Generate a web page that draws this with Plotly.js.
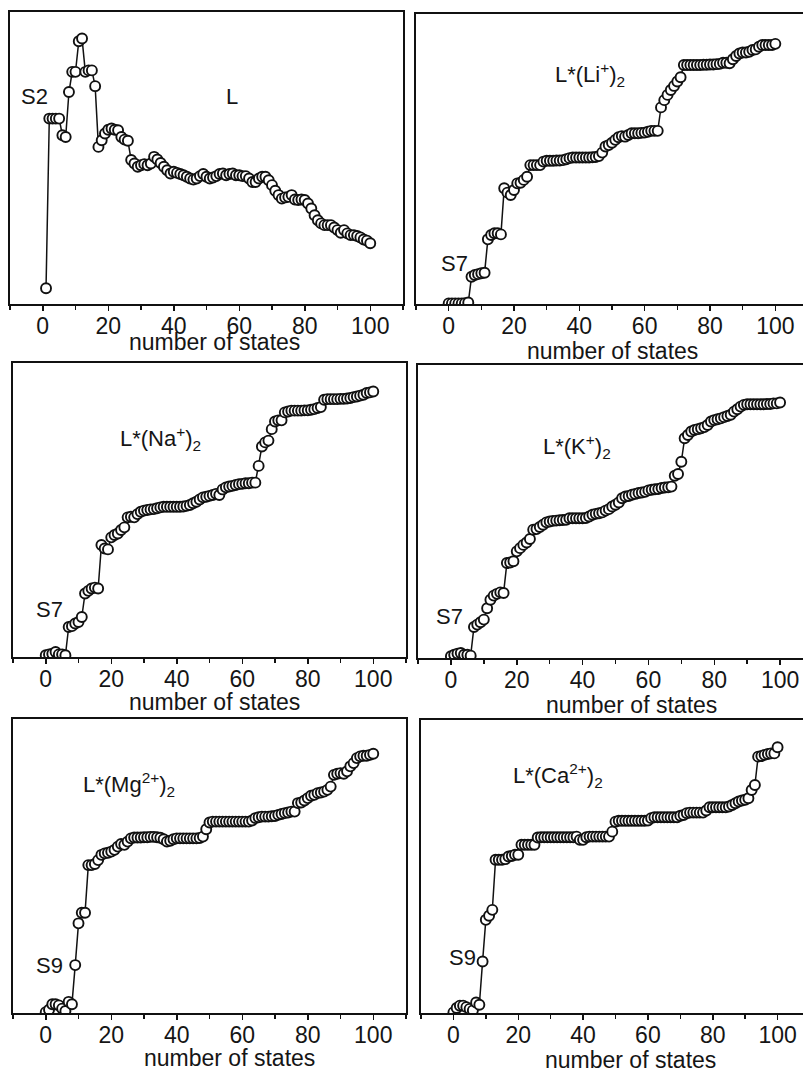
<!DOCTYPE html>
<html>
<head>
<meta charset="utf-8">
<script src="https://cdn.plot.ly/plotly-3.0.1.min.js"></script>
<style>
html,body{margin:0;padding:0;background:#fff;overflow:hidden;width:803px;height:1077px;}
#chart{width:815px;height:1077px;}
</style>
</head>
<body>
<div id="chart"></div>
<script>
// ---- data (relative energy, % of panel height; x = number of states) ----
const panelNames = ["L", "L*(Li+)2", "L*(Na+)2", "L*(K+)2", "L*(Mg2+)2", "L*(Ca2+)2"];
const firstState = [1, 0, 0, 0, 0, 0];
const xTickVals = [0, 20, 40, 60, 80, 100];
const xTickText = ["0", "20", "40", "60", "80", "100"];
const xTitle = "number of states";

const yL = [5.4,63.5,63.5,63.5,63.5,57.8,57.2,72.6,79.5,79.5,
  90,90.9,79.5,80,80,74.6,53.8,56.1,58.4,59.7,
  60.1,59.7,59.5,57.2,56.3,55.9,49.3,48.1,47,47.5,
  47.9,47.5,48.1,50.4,49.5,48.3,47,45.8,44.7,45.3,
  44.9,44.5,44.1,43.6,43,42.6,43,43.8,44.5,43.6,
  43,43.3,43.8,44.5,44.7,44.1,44.5,44.7,44.1,44.1,
  43.8,43.8,43,41.8,41.8,43,43.6,43.6,42.4,40.7,
  38.8,37.3,36.1,36.5,36.7,37.3,35.8,35.6,35.8,35.6,
  34.4,32.7,30.4,28.7,27.6,27,27,27,26.2,25.3,
  24.4,25.3,24.2,23.6,23.6,23.3,22.8,22.1,21.7,20.8];

const yLi = [0.2,0.2,0.2,0.2,0.2,0.3,0.5,9.4,10,10.3,
  10.6,10.8,22.3,23.8,24.4,24.4,24,39.9,38.4,37.6,
  39.3,41.6,41.8,42.8,43.9,47.9,47.9,47.9,47.9,49.1,
  49.4,49.4,49.4,49.5,49.5,49.6,49.9,50.3,50.5,50.5,
  50.5,50.5,50.5,50.5,50.6,50.7,51,52.2,54.3,54.8,
  55.6,56.6,57.5,57.9,57.7,58.3,58.9,58.9,58.9,59,
  59.1,59.4,59.7,59.7,59.7,67.8,70.3,72.1,73.8,75.2,
  76.7,78.2,82.4,82.4,82.4,82.4,82.4,82.4,82.5,82.5,
  82.6,82.6,82.7,82.8,83.2,83.2,83,84.4,85.5,86.4,
  86.7,86.7,87,87.6,87.8,88.7,89.3,89.3,89.3,89.3,89.7];

const yNa = [0.6,0.9,1.1,1.7,0.9,0.9,0.6,10.2,10.5,11.4,
  11.9,13.6,21.6,22.5,23.3,23.6,23.3,38.1,36.9,36.6,
  40.7,41.5,42,43.2,44.1,47.5,47.7,47.5,48.6,49.4,
  49.8,50,50.2,50.3,50.6,50.9,51.1,51.1,51.1,51.1,
  51.1,51.1,51.2,51.4,51.7,52.3,52.8,53.6,54.3,54.5,
  54.8,55.1,55.5,55.1,57,57.7,58,58.2,58.5,58.8,
  58.9,59.1,59.1,59.3,59.3,65,71.6,73,73.6,77.5,
  80.1,80.5,80.5,83.2,83.5,83.8,83.8,83.8,83.8,83.9,
  83.9,84.1,84.3,84.7,85,87.5,87.7,87.7,87.7,87.7,
  87.8,87.8,87.9,88.1,88.4,88.6,88.9,89.2,89.8,90,90.3];

const yK = [0.6,1.1,1.5,1.7,1.1,1.1,0.8,10.6,11.4,12.2,
  13.1,17,19.9,21.3,21.9,22.4,22.2,32.4,32.6,33,
  36.4,37.5,38.6,39.4,40.6,43.8,44,44.7,45.5,46.3,
  46.6,46.8,46.9,47,47.1,47.2,47.7,47.7,47.7,47.7,
  47.7,47.8,48.3,48.9,49.2,49.4,49.7,50.3,50.8,51.7,
  52.3,53.1,54.5,55.1,55.3,55.7,56,56.3,56.5,56.7,
  57.2,57.4,57.6,57.7,58,58.2,58.3,58.5,62.2,62.8,
  67,75,76.1,77.3,77.8,78.1,78.4,78.8,79.5,80.7,
  81.2,81.5,81.8,82.2,82.6,83,84.1,84.9,85.8,86.4,
  86.6,86.6,86.6,86.6,86.6,86.6,86.7,86.7,86.9,86.9,87.2];

const yMg = [0.3,1.1,3,3,2.6,1.5,0.7,3.8,3,16.3,
  30.5,34.1,34.1,50.3,50.3,50.7,52,53.8,54.3,54.5,
  54.9,55.5,56.6,57.5,57.2,58.3,59.4,59.7,59.7,59.7,
  59.8,59.8,59.9,59.9,59.8,59.6,59.1,58.3,58.6,59.1,
  59.4,59.4,59.4,59.4,59.4,59.4,59.4,59.5,60,62.5,
  64.8,65.1,65.1,65.1,65.1,65.1,65.1,65.1,65.1,65.1,
  65.1,65.1,65.1,65.5,66.3,66.6,66.8,66.8,66.8,66.9,
  67,67.4,67.7,68,68.2,68.5,68.5,71.4,71.6,72.3,
  73.1,73.9,74.2,74.8,75,75.3,75.9,77,81,81.4,
  81.6,81.4,82.2,83.9,85,86.7,87.3,87.5,87.5,87.8,88.2];

const yCa = [0.2,1.7,2.5,2.5,2,1.4,0.9,3.6,2.8,17.6,
  31.8,33.2,35.2,52.3,52.3,52.3,52.5,53.4,53.6,54,
  54,57.4,57.4,57.4,57.4,57.4,59.9,60,60,60,
  60,60,60,60,60,60,60,60,60.2,59.1,
  59.1,60,60.2,60.2,60.2,60.2,60.2,60.2,60.2,61.9,
  65.3,65.6,65.6,65.6,65.6,65.6,65.6,65.6,65.6,65.6,
  65.7,66.5,66.8,66.8,66.8,66.8,66.8,66.8,66.8,66.8,
  67.3,67.6,68.2,68.4,68.4,68.4,68.4,68.4,69.1,70.2,
  70.2,70.2,70.2,70.2,70.2,70.5,71,71.6,72.2,72.5,
  72.8,73.3,76.1,77.8,87.5,87.7,88.1,88.4,88.6,88.6,90.7];

const seriesY = [yL, yLi, yNa, yK, yMg, yCa];

// annotation labels (text, x in states, y in % of panel height)
const labelText = ["L", "L*(Li<sup>+</sup>)<sub>2</sub>", "L*(Na<sup>+</sup>)<sub>2</sub>",
  "L*(K<sup>+</sup>)<sub>2</sub>", "L*(Mg<sup>2+</sup>)<sub>2</sub>", "L*(Ca<sup>2+</sup>)<sub>2</sub>"];
const labelX = [57.9, 43.4, 35.1, 38.3, 25.4, 32.3];
const labelY = [71.2, 79.3, 74.3, 72.2, 77.7, 81.0];
const stateText = ["S2", "S7", "S7", "S7", "S9", "S9"];
const stateX = [-2.6, 1.7, 1.1, -0.5, 1.2, 2.8];
const stateY = [71.2, 14.1, 16.3, 14.0, 16.3, 19.1];

// ---- layout geometry (pixels) ----
const W = 815, H = 1077;
const boxes = [
  {x0: 10, x1: 403, y0: 12, y1: 304},
  {x0: 416, x1: 808, y0: 14, y1: 304},
  {x0: 13, x1: 406, y0: 363, y1: 657},
  {x0: 418, x1: 813, y0: 365, y1: 658},
  {x0: 13, x1: 406, y0: 719, y1: 1013},
  {x0: 421, x1: 810, y0: 720, y1: 1013}
];
// axis-title centre (x in states, y in page px)
const titleX = [52.5, 50.2, 51.6, 55, 56, 54.5];
const titleY = [342, 351, 702, 705, 1058, 1060];

const FONT = "Liberation Sans, Arial, Helvetica, sans-serif";
const INK = "#151515";
const traces = [];
const layout = {
  width: W, height: H,
  margin: {l: 0, r: 0, t: 0, b: 0},
  paper_bgcolor: "#fff", plot_bgcolor: "#fff",
  showlegend: false,
  font: {family: FONT, color: INK, size: 22},
  annotations: []
};

for (let i = 0; i < 6; i++) {
  const n = i === 0 ? "" : String(i + 1);
  const b = boxes[i];
  traces.push({
    type: "scatter", mode: "lines+markers",
    name: panelNames[i],
    x0: firstState[i], dx: 1,
    y: seriesY[i],
    xaxis: "x" + n, yaxis: "y" + n,
    line: {color: "#111", width: 1.5},
    marker: {symbol: "circle", size: 10, color: "#fff", line: {color: "#111", width: 1.9}},
    hoverinfo: "skip"
  });
  layout["xaxis" + n] = {
    domain: [b.x0 / W, b.x1 / W],
    anchor: "y" + n,
    range: [-10, 110],
    showline: true, mirror: true, linecolor: "#111", linewidth: 2,
    showgrid: false, zeroline: false,
    tickmode: "array", tickvals: xTickVals, ticktext: xTickText,
    ticks: "outside", ticklen: 5, tickwidth: 1.5, tickcolor: "#111",
    ticklabelstandoff: -5,
    minor: {ticks: "outside", ticklen: 4, tickwidth: 1.5, tickcolor: "#111", dtick: 10, tick0: 0, showgrid: false},
    tickfont: {size: 23, family: FONT, color: INK},
    automargin: false, fixedrange: true
  };
  layout["yaxis" + n] = {
    domain: [(H - b.y1) / H, (H - b.y0) / H],
    anchor: "x" + n,
    range: [0, 100],
    showline: true, mirror: true, linecolor: "#111", linewidth: 2,
    showgrid: false, zeroline: false,
    showticklabels: false, ticks: "",
    automargin: false, fixedrange: true
  };
  // x-axis title
  layout.annotations.push({
    xref: "x" + n, yref: "paper", x: titleX[i], y: (H - titleY[i]) / H,
    text: xTitle, showarrow: false, xanchor: "center", yanchor: "middle",
    font: {size: 23, family: FONT, color: INK}
  });
  layout.annotations.push({
    xref: "x" + n, yref: "y" + n, x: labelX[i], y: labelY[i],
    text: labelText[i], showarrow: false, xanchor: "center", yanchor: "middle",
    font: {size: 22, family: FONT, color: INK}
  });
  layout.annotations.push({
    xref: "x" + n, yref: "y" + n, x: stateX[i], y: stateY[i],
    text: stateText[i], showarrow: false, xanchor: "center", yanchor: "middle",
    font: {size: 22, family: FONT, color: INK}
  });
}

Plotly.newPlot("chart", traces, layout, {staticPlot: true, displayModeBar: false});
</script>
</body>
</html>
